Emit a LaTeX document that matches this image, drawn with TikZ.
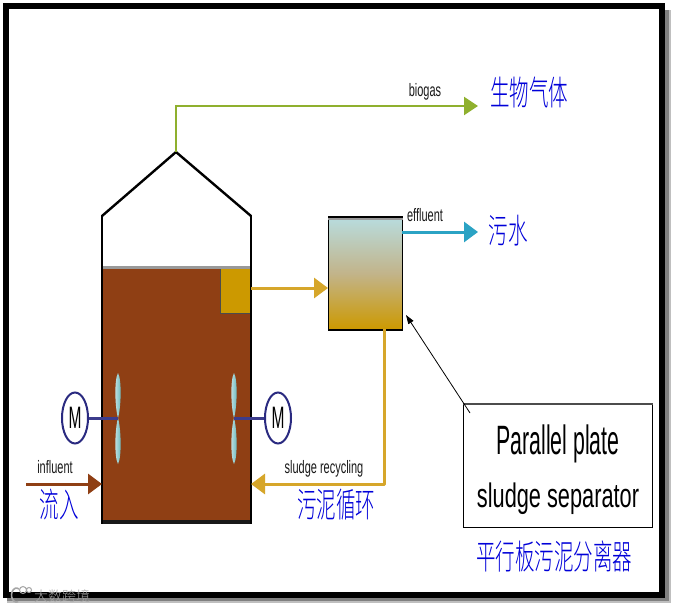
\documentclass[tikz,border=0pt]{standalone}
\usepackage{fontspec}
\setmainfont{Liberation Sans}
\newfontfamily\cjk{Noto Sans CJK SC}[UprightFont=* Light]
\usetikzlibrary{arrows.meta,shapes.geometric,positioning,calc}
\definecolor{sludgebrown}{HTML}{8F3F14}
\definecolor{sludgegold}{HTML}{CC9900}
\definecolor{linegold}{HTML}{D6A62A}
\definecolor{waterpale}{HTML}{B8DCDE}
\definecolor{midtan}{HTML}{C2B48A}
\definecolor{outblue}{HTML}{2BA3C4}
\definecolor{gasgreen}{HTML}{8FB02E}
\definecolor{shaftblue}{HTML}{3C3C8C}
\definecolor{ringblue}{HTML}{2A2A80}
\definecolor{bladelight}{HTML}{CFE6E6}
\definecolor{bladedark}{HTML}{58B2B8}
\newcommand{\narrow}[2]{\scalebox{#1}[1]{#2}}
\newcommand{\cn}[1]{\scalebox{1}[1.75]{\cjk #1}}
\tikzset{
  lab/.style={inner sep=0pt,anchor=base,font=\fontsize{18}{18}\selectfont,text=black!90},
  cnlab/.style={inner sep=0pt,font=\fontsize{19.5}{20}\selectfont,text=blue!85!black},
  flow/.style={line width=3pt,-{Triangle[length=14pt,width=20pt]}},
  motor/.style={ellipse,draw=ringblue,line width=2pt,fill=white,minimum width=26pt,minimum height=51pt,inner sep=0pt,font=\fontsize{31}{31}\selectfont},
  shaft/.style={line width=3pt,shaftblue},
  bladeshape/.style={left color=bladelight,right color=bladedark,draw=none},
  vessel/.style={line width=2.4pt,black}
}
\begin{document}
\begin{tikzpicture}[x=1pt,y=-1pt]
\useasboundingbox (0,0) rectangle (677,610);
% frame and shadow
\fill[black!25] (7,10) rectangle (671,603);
\fill[black!50] (7,10) rectangle (669,601);
\fill[black] (3,3) rectangle (665,598);
\fill[white] (9,9) rectangle (659,592);
% tank
\fill[sludgebrown] (102,268) rectangle (251,524);
\fill[sludgegold] (220,268) rectangle (251,313);
\draw[line width=.8pt,black!70] (220,268) -- (220,313) -- (251,313);
\draw[line width=3pt,black!40] (102,267) -- (251,267);
\draw[line width=4pt,black!90] (102,522) -- (251,522);
\draw[line width=1.4pt,black] (102,268) -- (102,524) (251,268) -- (251,524);
\coordinate (apex) at (176,152);
\draw[vessel,line join=miter] (102,216) -- (apex) -- (251,216);
\draw[line width=1.6pt,black] (102,215) -- (102,268) (251,215) -- (251,268);
% separator
\node[draw=black,line width=1pt,minimum width=74pt,minimum height=112pt,inner sep=0pt,anchor=north west,
  top color=waterpale,bottom color=sludgegold,middle color=midtan] (sep) at (328,217) {};
\draw[line width=3pt,black!40] ([yshift=-1pt]sep.north west) -- ([yshift=-1pt]sep.north east);
\draw[line width=1.8pt,black] (sep.north west) -- (sep.north east);
\draw[line width=1.8pt,black] (sep.south west) -- (sep.south east);
% motors
\coordinate (hl) at (118,418);
\coordinate (hr) at (234,418);
\path[bladeshape] (118,373) .. controls (122,380) and (121,408) .. (hl) .. controls (115,408) and (114,380) .. (118,373);
\path[bladeshape] (118,464) .. controls (122,457) and (121,428) .. (hl) .. controls (115,428) and (114,457) .. (118,464);
\path[bladeshape] (234,373) .. controls (238,380) and (237,408) .. (hr) .. controls (231,408) and (230,380) .. (234,373);
\path[bladeshape] (234,464) .. controls (238,457) and (237,428) .. (hr) .. controls (231,428) and (230,457) .. (234,464);
\node[motor] (ml) at (75,418) {\narrow{.5}{M}};
\node[motor] (mr) at (278,418) {\narrow{.5}{M}};
\draw[shaft] (ml) -- (hl);
\draw[shaft] (mr) -- (hr);
% flows
\coordinate (biogasend) at (478,106);
\coordinate (bend1) at (176,106);
\draw[gasgreen,line width=2.2pt,-{Triangle[length=14pt,width=18pt]}] (apex) -- (bend1) -- (biogasend);
\coordinate (settleout) at (251,288);
\draw[flow,linegold] (settleout) -- (sep.west |- settleout);
\coordinate (effin) at (402,232);
\coordinate (effend) at (478,232);
\draw[flow,outblue] (effin) -- (effend);
\coordinate (infs) at (26,484);
\coordinate (infe) at (102,484);
\draw[flow,sludgebrown] (infs) -- (infe);
\coordinate (rs) at (384,329);
\coordinate (rb) at (384,484);
\coordinate (re) at (251,484);
\draw[flow,linegold,line join=round] (rs) -- (rb) -- (re);
% callout
\node[draw=black,line width=1.2pt,fill=white,minimum width=189pt,minimum height=123pt,inner sep=0pt,anchor=north west] (call) at (463,404) {};
\draw[line width=2.5pt,black!70] (call.north west) -- (call.north east);
\node[inner sep=0pt,anchor=base,font=\fontsize{41}{41}\selectfont] (t1) at (558,454) {\narrow{.52}{Parallel plate}};
\node[inner sep=0pt,anchor=base,font=\fontsize{34}{34}\selectfont] (t2) at (558,507) {\narrow{.64}{sludge separator}};
\coordinate (ctip) at (406,315);
\coordinate (cfrom) at (470,413);
\draw[black,line width=.8pt,-{Triangle[length=9pt,width=6pt]}] (cfrom) -- (ctip);
% labels
\node[lab] (lb) at (425,96) {\narrow{.61}{biogas}};
\node[lab] (le) at (425,221) {\narrow{.61}{effluent}};
\node[lab] (li) at (55,473) {\narrow{.61}{influent}};
\node[lab] (ls) at (324,473) {\narrow{.61}{sludge recycling}};
\node[cnlab] (c1) at (529,92) {\cn{生物气体}};
\node[cnlab] (c2) at (508,231) {\cn{污水}};
\node[cnlab] (c3) at (59,505) {\cn{流入}};
\node[cnlab] (c4) at (336,505) {\cn{污泥循环}};
\node[cnlab] (c5) at (554,556) {\cn{平行板污泥分离器}};
% watermark
\node[inner sep=0pt,font=\fontsize{14}{14}\selectfont,text=black!35] (wm) at (62,596) {\cjk 大数跨境};
\draw[black!35,line width=1.6pt] (19,589) arc (60:290:5pt and 7pt);
\draw[black!35,line width=1pt] (23,590) circle (3.5pt) (29,590) circle (2.5pt);
\end{tikzpicture}
\end{document}
